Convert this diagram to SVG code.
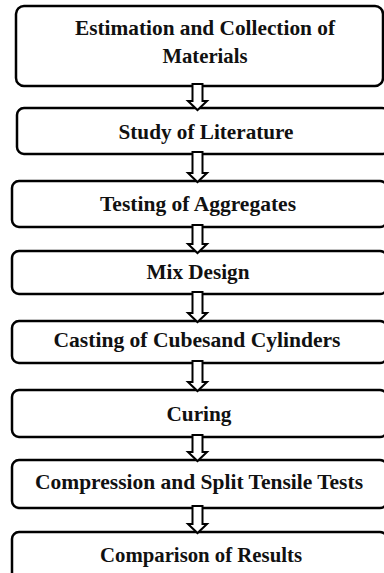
<svg xmlns="http://www.w3.org/2000/svg" width="384" height="573" viewBox="0 0 384 573">
<style>
.box{fill:#fff;stroke:#000;stroke-width:2.5}
.arr{fill:#fff;stroke:#000;stroke-width:2;stroke-linejoin:miter}
text{font-family:"Liberation Serif","Times New Roman",serif;font-weight:bold;font-size:21px;fill:#111;text-anchor:middle}
</style>
<rect width="384" height="573" fill="#fff"/>
<g id="n1"><rect class="box" x="16" y="6" width="367" height="80" rx="8"/><text x="205" y="35" textLength="260" lengthAdjust="spacingAndGlyphs">Estimation and Collection of</text><text x="205" y="63" textLength="85" lengthAdjust="spacingAndGlyphs">Materials</text></g>
<g id="n2"><rect class="box" x="17" y="108" width="372" height="46" rx="7"/><text x="206" y="139" textLength="175" lengthAdjust="spacingAndGlyphs">Study of Literature</text></g>
<g id="n3"><rect class="box" x="12" y="181" width="375" height="46" rx="7"/><text x="198" y="211" textLength="196" lengthAdjust="spacingAndGlyphs">Testing of Aggregates</text></g>
<g id="n4"><rect class="box" x="12" y="251" width="375" height="43" rx="7"/><text x="198" y="279" textLength="103" lengthAdjust="spacingAndGlyphs">Mix Design</text></g>
<g id="n5"><rect class="box" x="12" y="321" width="375" height="42" rx="7"/><text x="197" y="347" textLength="287" lengthAdjust="spacingAndGlyphs">Casting of Cubesand Cylinders</text></g>
<g id="n6"><rect class="box" x="12" y="390" width="375" height="47" rx="7"/><text x="199" y="421" textLength="65" lengthAdjust="spacingAndGlyphs">Curing</text></g>
<g id="n7"><rect class="box" x="12" y="460" width="375" height="48" rx="7"/><text x="199" y="489" textLength="328" lengthAdjust="spacingAndGlyphs">Compression and Split Tensile Tests</text></g>
<g id="n8"><rect class="box" x="12" y="532" width="375" height="60" rx="7"/><text x="201" y="562" textLength="202" lengthAdjust="spacingAndGlyphs">Comparison of Results</text></g>
<g id="connectors">
<path class="arr" d="M192.5 84 H202.5 V101 H207 L197.5 110 L188 101 H192.5 Z"/>
<path class="arr" d="M192.5 152 H202.5 V173 H207 L197.5 182 L188 173 H192.5 Z"/>
<path class="arr" d="M192.5 225 H202.5 V244 H207 L197.5 253 L188 244 H192.5 Z"/>
<path class="arr" d="M192.5 292 H202.5 V313 H207 L197.5 322 L188 313 H192.5 Z"/>
<path class="arr" d="M192.5 361 H202.5 V382 H207 L197.5 391 L188 382 H192.5 Z"/>
<path class="arr" d="M192.5 435 H202.5 V452 H207 L197.5 461 L188 452 H192.5 Z"/>
<path class="arr" d="M192.5 506 H202.5 V524 H207 L197.5 533 L188 524 H192.5 Z"/>
</g>
</svg>
